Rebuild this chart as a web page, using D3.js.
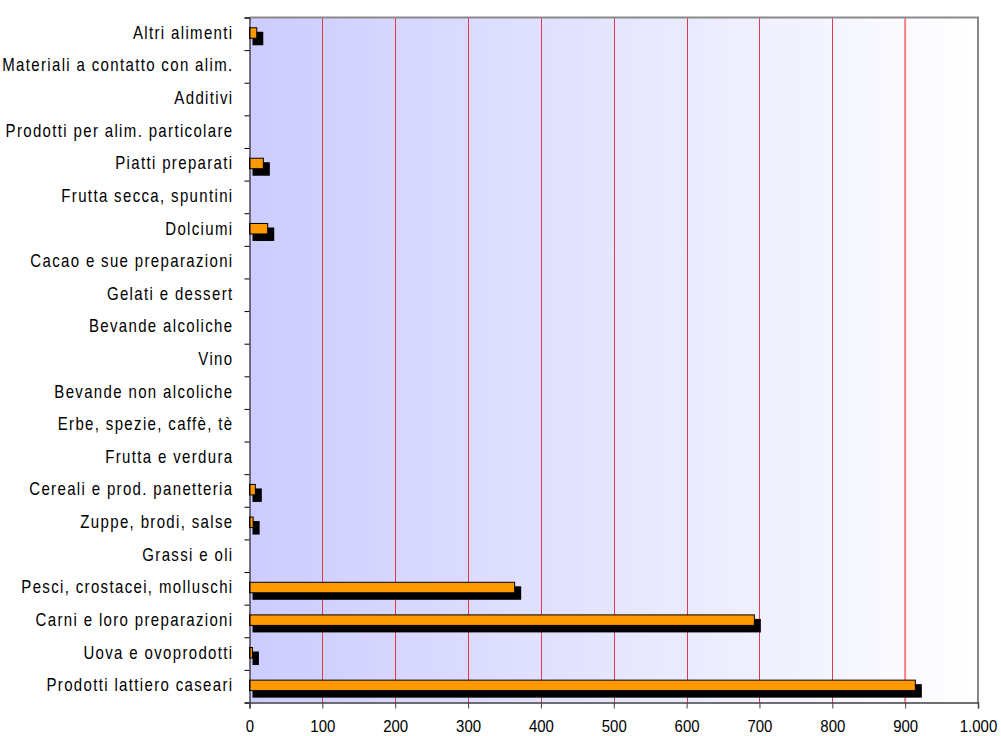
<!DOCTYPE html>
<html>
<head>
<meta charset="utf-8">
<script src="https://cdn.jsdelivr.net/npm/d3@7"></script>
<style>
  html, body { margin: 0; padding: 0; background: #ffffff; }
  svg { display: block; }
  text { font-family: "Liberation Sans", Arial, sans-serif; fill: #000; }
</style>
</head>
<body>
<svg id="chart" width="1001" height="736"></svg>
<script>
// Categorie di alimenti (dall'alto verso il basso)
const categories = [
  "Altri alimenti",
  "Materiali a contatto con alim.",
  "Additivi",
  "Prodotti per alim. particolare",
  "Piatti preparati",
  "Frutta secca, spuntini",
  "Dolciumi",
  "Cacao e sue preparazioni",
  "Gelati e dessert",
  "Bevande alcoliche",
  "Vino",
  "Bevande non alcoliche",
  "Erbe, spezie, caffè, tè",
  "Frutta e verdura",
  "Cereali e prod. panetteria",
  "Zuppe, brodi, salse",
  "Grassi e oli",
  "Pesci, crostacei, molluschi",
  "Carni e loro preparazioni",
  "Uova e ovoprodotti",
  "Prodotti lattiero caseari"
];

// Valori per categoria (stesso ordine)
const values = [
  10, 0, 0, 0, 19, 0, 25, 0, 0, 0, 0, 0, 0, 0, 8, 5, 0, 364, 693, 4, 914
];

// Etichette asse X
const xTicks = [0, 100, 200, 300, 400, 500, 600, 700, 800, 900, 1000];
const xTickLabels = ["0", "100", "200", "300", "400", "500", "600", "700", "800", "900", "1.000"];

// Linea di riferimento
const refValue = [900];

const svg = d3.select("#chart");
const plotL = 249.5, plotR = 978, plotT = 17.5, plotB = 702.5;

const x = d3.scaleLinear().domain([0, 1000]).range([plotL, plotR]);
const y = d3.scaleBand().domain(categories).range([plotT, plotB]).padding(0);

// Sfondo sfumato dell'area del grafico
const defs = svg.append("defs");
const grad = defs.append("linearGradient")
  .attr("id", "bg").attr("x1", "0%").attr("x2", "100%").attr("y1", "0%").attr("y2", "0%");
grad.append("stop").attr("offset", "0%").attr("stop-color", "#ccccff");
grad.append("stop").attr("offset", "100%").attr("stop-color", "#ffffff");

svg.append("rect")
  .attr("x", plotL).attr("y", plotT)
  .attr("width", plotR - plotL).attr("height", plotB - plotT)
  .attr("fill", "url(#bg)");

// Griglia verticale
svg.append("g")
  .selectAll("line")
  .data(xTicks.filter(d => d > 0 && d < 1000 && !refValue.includes(d)))
  .join("line")
  .attr("x1", d => Math.round(x(d)) + 0.5).attr("x2", d => Math.round(x(d)) + 0.5)
  .attr("y1", plotT).attr("y2", plotB)
  .attr("stroke", "#e03a50").attr("stroke-width", 1);

// Linea di riferimento a 900
svg.append("g")
  .selectAll("line")
  .data(refValue)
  .join("line")
  .attr("x1", d => x(d)).attr("x2", d => x(d))
  .attr("y1", plotT).attr("y2", plotB)
  .attr("stroke", "#ff8080").attr("stroke-width", 2);

// Bordo superiore e destro
svg.append("path")
  .attr("d", `M${plotL},${plotT}H${plotR}V${plotB}`)
  .attr("fill", "none").attr("stroke", "#8a8a8a").attr("stroke-width", 2);

// Barre con ombra
const data = categories.map((c, i) => ({ cat: c, v: values[i] })).filter(d => d.v > 0);
const barH = 10.5;
const center = d => y(d.cat) + y.bandwidth() / 2 - 0.8;

svg.append("g")
  .selectAll("rect")
  .data(data)
  .join("rect")
  .attr("x", x(0) + 3)
  .attr("y", d => center(d) - barH / 2 + 4)
  .attr("width", d => x(d.v) - x(0) + 3.5)
  .attr("height", barH + 3)
  .attr("fill", "#000");

svg.append("g")
  .selectAll("rect")
  .data(data)
  .join("rect")
  .attr("x", x(0))
  .attr("y", d => center(d) - barH / 2)
  .attr("width", d => x(d.v) - x(0))
  .attr("height", barH)
  .attr("fill", "#ff9900")
  .attr("stroke", "#000")
  .attr("stroke-width", 1);

// Asse Y: tacche ai confini delle categorie
const yEdges = d3.scaleLinear().domain([0, categories.length]).range([plotB, plotT]);
const yTickAxis = svg.append("g")
  .attr("transform", `translate(${plotL},0)`)
  .call(d3.axisLeft(yEdges).tickValues(d3.range(categories.length + 1)).tickSize(5).tickFormat(""));
yTickAxis.select(".domain").attr("stroke", "#000");
yTickAxis.selectAll(".tick line").attr("stroke", "#000");

// Etichette categorie
const yLab = svg.append("g")
  .attr("transform", `translate(${plotL},0)`)
  .call(d3.axisLeft(y).tickSize(0));
yLab.select(".domain").remove();
yLab.selectAll(".tick text")
  .attr("x", 0).attr("y", 0).attr("dy", null)
  .attr("text-anchor", "end")
  .style("font-size", "15px")
  .style("letter-spacing", "1.35px")
  .attr("transform", "translate(-16,5) scale(1,1.22)");

// Asse X
const xAxis = svg.append("g")
  .attr("transform", `translate(0,${plotB})`)
  .call(d3.axisBottom(x).tickValues(xTicks).tickSize(6)
    .tickFormat((d, i) => xTickLabels[i]));
xAxis.select(".domain").attr("stroke", "#404040").attr("stroke-width", 1.5);
xAxis.selectAll(".tick line").attr("stroke", "#404040");
xAxis.selectAll(".tick text")
  .attr("y", 0).attr("dy", null)
  .style("font-size", "15px")
  .attr("transform", "translate(0,29.5) scale(1,1.1)");
</script>
</body>
</html>
